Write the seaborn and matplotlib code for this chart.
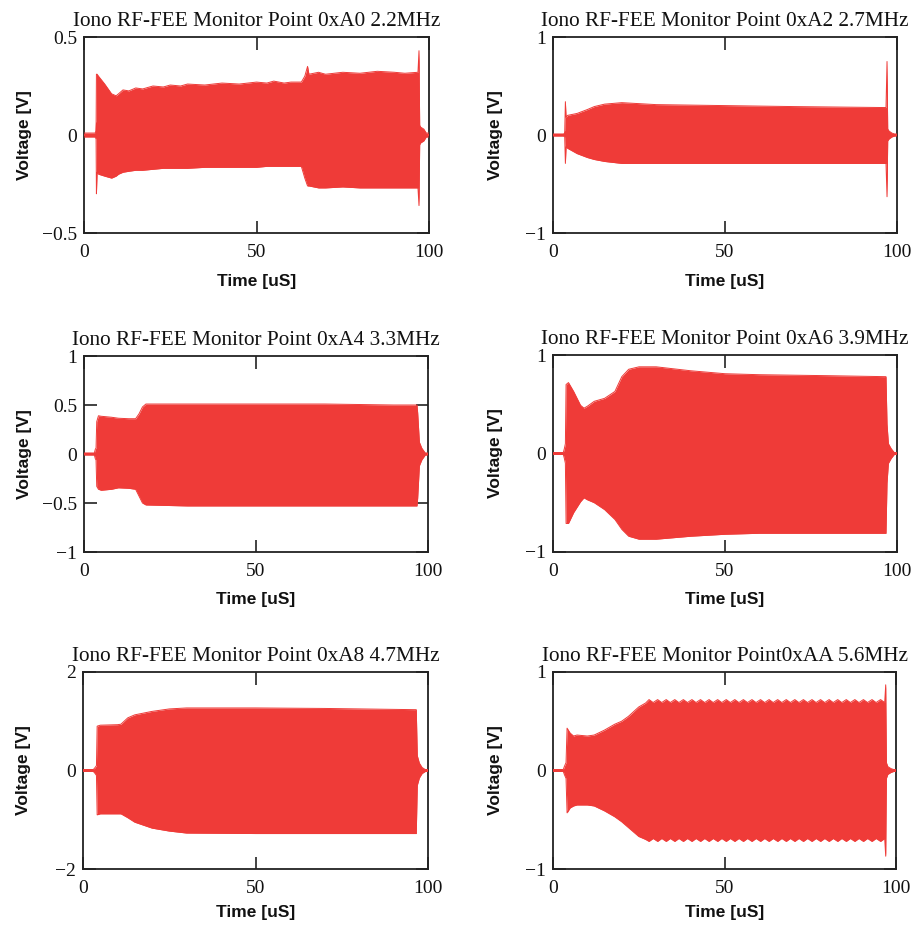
import numpy as np
import matplotlib
matplotlib.use("Agg")
import matplotlib.pyplot as plt
import seaborn as sns

sns.set_style("ticks")
plt.rcParams["font.family"] = ["Liberation Serif", "DejaVu Serif"]
plt.rcParams["axes.unicode_minus"] = True

RED = "#EF3B38"

# --- Monitor point titles -------------------------------------------------
titles = [
    "Iono RF-FEE Monitor Point 0xA0 2.2MHz",
    "Iono RF-FEE Monitor Point 0xA2 2.7MHz",
    "Iono RF-FEE Monitor Point 0xA4 3.3MHz",
    "Iono RF-FEE Monitor Point 0xA6 3.9MHz",
    "Iono RF-FEE Monitor Point 0xA8 4.7MHz",
    "Iono RF-FEE Monitor Point0xAA 5.6MHz",
]

# --- Burst envelopes: time [uS], upper and lower voltage [V] -------------
t_a0 = [0, 3.2, 3.5, 3.6, 3.8, 4.2, 6, 8, 9.3, 10, 11.3, 13, 15, 17, 20, 23,
        25, 28, 30, 35, 40, 45, 50, 53, 55, 58, 60, 63, 64, 64.8, 65.2, 68,
        70, 75, 80, 85, 90, 93, 96.8, 97.1, 97.3, 97.6, 98.5, 99.2, 100]
hi_a0 = [0.01, 0.01, 0.02, 0.31, 0.31, 0.30, 0.26, 0.21, 0.20, 0.21, 0.23,
         0.225, 0.24, 0.235, 0.25, 0.245, 0.255, 0.25, 0.26, 0.255, 0.265,
         0.26, 0.27, 0.265, 0.275, 0.265, 0.27, 0.27, 0.30, 0.35, 0.31, 0.32,
         0.31, 0.32, 0.315, 0.325, 0.32, 0.315, 0.32, 0.43, 0.05, 0.04, 0.03,
         0.01, 0.01]
lo_a0 = [-0.01, -0.01, -0.02, -0.30, -0.19, -0.20, -0.21, -0.22, -0.21, -0.20,
         -0.19, -0.185, -0.18, -0.18, -0.175, -0.17, -0.17, -0.17, -0.17,
         -0.165, -0.165, -0.165, -0.165, -0.16, -0.16, -0.16, -0.16, -0.16,
         -0.22, -0.26, -0.26, -0.27, -0.27, -0.265, -0.27, -0.27, -0.27,
         -0.27, -0.27, -0.36, -0.05, -0.04, -0.03, -0.01, -0.01]

t_a2 = [0, 3.1, 3.4, 3.6, 3.8, 4.2, 7, 10, 12, 15, 20, 30, 50, 70, 96.8, 97.1,
        97.3, 97.7, 98.5, 99.3, 100]
hi_a2 = [0.01, 0.01, 0.02, 0.34, 0.18, 0.20, 0.22, 0.26, 0.29, 0.315, 0.33,
         0.31, 0.30, 0.29, 0.28, 0.75, 0.06, 0.04, 0.02, 0.01, 0.01]
lo_a2 = [-0.01, -0.01, -0.02, -0.29, -0.12, -0.135, -0.19, -0.23, -0.25, -0.27,
         -0.29, -0.29, -0.29, -0.29, -0.29, -0.63, -0.06, -0.04, -0.02, -0.01,
         -0.01]

t_a4 = [0, 3.0, 3.3, 3.5, 3.7, 4.2, 5, 8, 10, 13, 15, 16, 17, 18, 30, 50, 70,
        90, 96.8, 97.0, 97.5, 98.2, 98.8, 99.2, 100]
hi_a4 = [0.01, 0.01, 0.05, 0.06, 0.33, 0.39, 0.385, 0.375, 0.365, 0.36, 0.36,
         0.41, 0.48, 0.51, 0.51, 0.51, 0.51, 0.50, 0.50, 0.42, 0.12, 0.06,
         0.03, 0.01, 0.01]
lo_a4 = [-0.01, -0.01, -0.05, -0.06, -0.33, -0.36, -0.37, -0.36, -0.345,
         -0.35, -0.36, -0.43, -0.50, -0.52, -0.53, -0.53, -0.53, -0.53, -0.53,
         -0.45, -0.12, -0.06, -0.03, -0.01, -0.01]

t_a6 = [0, 3.0, 3.3, 3.6, 3.8, 4.5, 6, 8, 9, 10, 12, 15, 18, 20, 22, 25, 30,
        40, 50, 60, 80, 96.8, 97.1, 97.5, 98.3, 99.2, 100]
hi_a6 = [0.01, 0.01, 0.05, 0.10, 0.70, 0.72, 0.63, 0.49, 0.46, 0.48, 0.53,
         0.56, 0.63, 0.78, 0.855, 0.88, 0.88, 0.84, 0.81, 0.80, 0.79, 0.78,
         0.30, 0.10, 0.05, 0.01, 0.01]
lo_a6 = [-0.01, -0.01, -0.05, -0.10, -0.71, -0.71, -0.60, -0.49, -0.45, -0.47,
         -0.50, -0.57, -0.67, -0.77, -0.84, -0.87, -0.87, -0.84, -0.82, -0.81,
         -0.81, -0.81, -0.30, -0.10, -0.05, -0.01, -0.01]

t_a8 = [0, 3.0, 3.5, 3.9, 4.1, 5, 10, 11, 13, 15, 20, 25, 30, 50, 70, 96.6,
        96.9, 97.5, 98.3, 99.2, 100]
hi_a8 = [0.02, 0.02, 0.06, 0.10, 0.90, 0.92, 0.93, 0.94, 1.07, 1.13, 1.20,
         1.25, 1.27, 1.27, 1.26, 1.235, 0.30, 0.15, 0.06, 0.02, 0.02]
lo_a8 = [-0.02, -0.02, -0.06, -0.10, -0.90, -0.88, -0.88, -0.88, -0.96, -1.05,
         -1.17, -1.23, -1.27, -1.28, -1.28, -1.28, -0.30, -0.15, -0.06, -0.02,
         -0.02]

t_aa = [0, 3.0, 3.3, 3.8, 4.1, 5, 6, 7, 10, 12, 15, 18, 20, 22, 25, 27,
        28.0, 29.2, 30.5, 31.7, 33.0, 34.2, 35.5, 36.7, 38.0, 39.2, 40.5, 41.7,
        43.0, 44.2, 45.5, 46.7, 48.0, 49.2, 50.5, 51.7, 53.0, 54.2, 55.5, 56.7,
        58.0, 59.2, 60.5, 61.7, 63.0, 64.2, 65.5, 66.7, 68.0, 69.2, 70.5, 71.7,
        73.0, 74.2, 75.5, 76.7, 78.0, 79.2, 80.5, 81.7, 83.0, 84.2, 85.5, 86.7,
        88.0, 89.2, 90.5, 91.7, 93.0, 94.2, 95.5, 96.7,
        97.0, 97.2, 97.6, 98.5, 99.3, 100]
hi_aa = [0.01, 0.01, 0.04, 0.08, 0.43, 0.38, 0.35, 0.36, 0.35, 0.36, 0.41,
         0.47, 0.50, 0.55, 0.645, 0.685,
         0.72, 0.69, 0.72, 0.69, 0.72, 0.69, 0.72, 0.69, 0.72, 0.69, 0.72, 0.69,
         0.72, 0.69, 0.72, 0.69, 0.72, 0.69, 0.72, 0.69, 0.72, 0.69, 0.72, 0.69,
         0.72, 0.69, 0.72, 0.69, 0.72, 0.69, 0.72, 0.69, 0.72, 0.69, 0.72, 0.69,
         0.72, 0.69, 0.72, 0.69, 0.72, 0.69, 0.72, 0.69, 0.72, 0.69, 0.72, 0.69,
         0.72, 0.69, 0.72, 0.69, 0.72, 0.69, 0.72, 0.69,
         0.87, 0.08, 0.04, 0.02, 0.01, 0.01]
lo_aa = [-0.01, -0.01, -0.04, -0.08, -0.43, -0.38, -0.36, -0.35, -0.35, -0.36,
         -0.41, -0.47, -0.52, -0.58, -0.67, -0.70,
         -0.72, -0.69, -0.72, -0.69, -0.72, -0.69, -0.72, -0.69, -0.72, -0.69,
         -0.72, -0.69, -0.72, -0.69, -0.72, -0.69, -0.72, -0.69, -0.72, -0.69,
         -0.72, -0.69, -0.72, -0.69, -0.72, -0.69, -0.72, -0.69, -0.72, -0.69,
         -0.72, -0.69, -0.72, -0.69, -0.72, -0.69, -0.72, -0.69, -0.72, -0.69,
         -0.72, -0.69, -0.72, -0.69, -0.72, -0.69, -0.72, -0.69, -0.72, -0.69,
         -0.72, -0.69, -0.72, -0.69, -0.72, -0.69,
         -0.87, -0.08, -0.04, -0.02, -0.01, -0.01]

# --- Axis ranges and tick labels ----------------------------------------
x_ticks = [0, 50, 100]
y_ranges = [(-0.5, 0.5), (-1, 1), (-1, 1), (-1, 1), (-2, 2), (-1, 1)]
y_ticks = [
    [-0.5, 0, 0.5],
    [-1, 0, 1],
    [-1, -0.5, 0, 0.5, 1],
    [-1, 0, 1],
    [-2, 0, 2],
    [-1, 0, 1],
]
y_ticklabels = [
    ["\u22120.5", "0", "0.5"],
    ["\u22121", "0", "1"],
    ["\u22121", "\u22120.5", "0", "0.5", "1"],
    ["\u22121", "0", "1"],
    ["\u22122", "0", "2"],
    ["\u22121", "0", "1"],
]

envelopes = [
    (t_a0, hi_a0, lo_a0),
    (t_a2, hi_a2, lo_a2),
    (t_a4, hi_a4, lo_a4),
    (t_a6, hi_a6, lo_a6),
    (t_a8, hi_a8, lo_a8),
    (t_aa, hi_aa, lo_aa),
]

# Panel placement in figure pixels: left, top, right, bottom
W, H = 915, 927
boxes = [
    (84, 37, 429, 233),
    (553, 37, 897, 233),
    (84, 356, 428, 552),
    (553, 355, 897, 552),
    (83, 672, 428, 869),
    (553, 672, 896, 869),
]
xlabel_gap = [41, 41, 40, 40, 36, 36]
ylabel_gap = [52, 50, 52, 50, 52, 50]

fig = plt.figure(figsize=(W / 100, H / 100), dpi=100)

for i, (l, t, r, b) in enumerate(boxes):
    ax = fig.add_axes([l / W, 1 - b / H, (r - l) / W, (b - t) / H])
    tt, hi, lo = (np.asarray(a, dtype=float) for a in envelopes[i])

    ax.fill_between(tt, lo, hi, color=RED, linewidth=0, zorder=2)
    sns.lineplot(x=tt, y=hi, ax=ax, color=RED, linewidth=0.7, zorder=3)
    sns.lineplot(x=tt, y=lo, ax=ax, color=RED, linewidth=0.7, zorder=3)
    sns.lineplot(x=tt, y=(hi + lo) / 2, ax=ax, color=RED, linewidth=1.6,
                 zorder=3)

    ax.set_xlim(0, 100)
    ax.set_ylim(*y_ranges[i])
    ax.set_xticks(x_ticks)
    ax.set_xticklabels([str(v) for v in x_ticks])
    ax.set_yticks(y_ticks[i])
    ax.set_yticklabels(y_ticklabels[i])

    ax.tick_params(direction="in", length=9, width=1.2, color="#222222",
                   top=True, right=True, labelsize=14, labelcolor="#111111")
    ax.tick_params(axis="x", pad=8)
    ax.tick_params(axis="y", pad=5)
    for sp in ax.spines.values():
        sp.set_linewidth(1.3)
        sp.set_color("#222222")
        sp.set_visible(True)

    ax.set_title(titles[i], fontsize=15.3, color="#111111", pad=8,
                 family=["Liberation Serif"])
    ax.set_xlabel("Time [uS]", fontsize=12.5, fontweight="bold",
                  family=["Liberation Sans"], color="#111111")
    ax.set_ylabel("Voltage [V]", fontsize=12.5, fontweight="bold",
                  family=["Liberation Sans"], color="#111111")
    ax.xaxis.set_label_coords(0.5, -xlabel_gap[i] / (b - t))
    ax.yaxis.set_label_coords(-ylabel_gap[i] / (r - l), 0.5)
    ax.grid(False)

fig.savefig("out.png", dpi=100, facecolor="white")
